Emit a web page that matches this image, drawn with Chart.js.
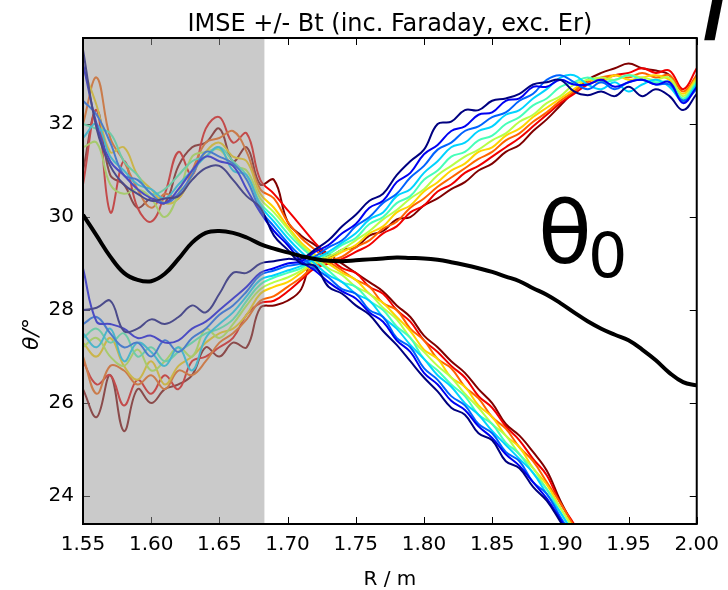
<!DOCTYPE html>
<html>
<head>
<meta charset="utf-8">
<script src="https://cdn.jsdelivr.net/npm/chart.js@4.4.0/dist/chart.umd.min.js"></script>
<style>
  html, body { margin: 0; padding: 0; background: #fff; }
</style>
</head>
<body>
<canvas id="chartTheta" width="728" height="590"></canvas>
<script>
// R positions (m)
var rValues = [1.55, 1.56, 1.57, 1.58, 1.59, 1.60, 1.61, 1.62, 1.63, 1.64,
               1.65, 1.66, 1.67, 1.68, 1.69, 1.70, 1.71, 1.72, 1.73, 1.74,
               1.75, 1.76, 1.77, 1.78, 1.79, 1.80, 1.81, 1.82, 1.83, 1.84,
               1.85, 1.86, 1.87, 1.88, 1.89, 1.90, 1.91, 1.92, 1.93, 1.94,
               1.95, 1.96, 1.97, 1.98, 1.99, 2.00];

var xTicks = [1.55, 1.60, 1.65, 1.70, 1.75, 1.80, 1.85, 1.90, 1.95, 2.00];
var yTicks = [24, 26, 28, 30, 32];
var shadeEnd = 1.683;

// theta0 (black)
var theta0 = [30.05, 29.6, 29.15, 28.8, 28.65, 28.62, 28.78, 29.1, 29.45, 29.66,
              29.7, 29.66, 29.56, 29.42, 29.32, 29.24, 29.16, 29.1, 29.06, 29.05,
              29.07, 29.09, 29.11, 29.13, 29.12, 29.11, 29.08, 29.03, 28.97, 28.9,
              28.82, 28.72, 28.62, 28.47, 28.33, 28.15, 27.95, 27.76, 27.6, 27.47,
              27.35, 27.15, 26.92, 26.65, 26.45, 26.38];

// +Bt lines (lower left -> upper right), jet order navy..darkred
var rise0 = [28.0, 28.05, 28.2, 27.55, 27.6, 27.8, 27.7, 27.85, 28.1, 27.95, 28.35, 28.8, 28.8, 29.0,
             29.05, 29.1, 29.1, 29.3,
             29.5, 29.8, 30.05, 30.35, 30.5, 30.9, 31.2, 31.45, 32.0, 32.05, 32.3, 32.3, 32.5, 32.55,
             32.65, 32.85, 32.9, 32.95, 32.7, 32.62, 32.7, 32.6, 32.8, 32.6, 32.75, 32.6, 32.3, 32.65];
var rise1 = [28.9, 27.75, 27.7, 27.6, 27.4, 27.45, 27.3, 27.35, 27.6, 27.75, 28.0, 28.25, 28.5, 28.8,
             28.9, 29.0, 29.05, 29.25,
             29.4, 29.65, 29.85, 30.2, 30.35, 30.75, 30.95, 31.35, 31.55, 31.85, 31.95, 32.2, 32.25, 32.5,
             32.55, 32.8, 32.8, 32.95, 32.85, 32.85, 32.95, 32.8, 32.9, 32.95, 32.85, 32.9, 32.45, 32.8];
var rise2 = [27.7, 27.85, 27.5, 27.2, 27.3, 27.0, 27.35, 27.1, 27.4, 27.6, 27.9, 28.1, 28.4, 28.75,
             28.85, 28.95, 29.0, 29.15,
             29.35, 29.5, 29.8, 30.0, 30.3, 30.5, 30.85, 31.1, 31.45, 31.6, 31.85, 31.95, 32.15, 32.25,
             32.5, 32.65, 32.95, 33.05, 32.9, 32.75, 32.9, 32.75, 32.9, 32.95, 32.85, 32.85, 32.5, 32.75];
var rise3 = [27.5, 27.2, 27.6, 26.9, 27.3, 27.1, 26.8, 27.2, 26.7, 27.4, 27.7, 27.95, 28.3, 28.65,
             28.75, 28.85, 28.95, 29.1,
             29.25, 29.45, 29.65, 29.95, 30.1, 30.45, 30.6, 30.95, 31.2, 31.5, 31.6, 31.85, 31.95, 32.2,
             32.3, 32.55, 32.75, 33.0, 33.05, 32.85, 32.75, 32.9, 32.7, 32.85, 32.95, 32.8, 32.5, 32.85];
var rise4 = [27.4, 27.6, 27.3, 27.5, 27.0, 27.2, 26.9, 27.1, 27.3, 27.5, 27.6, 27.8, 28.2, 28.55,
             28.7, 28.8, 28.9, 29.1,
             29.2, 29.4, 29.55, 29.85, 30.0, 30.3, 30.45, 30.8, 31.0, 31.3, 31.4, 31.65, 31.75, 32.0,
             32.15, 32.4, 32.55, 32.8, 32.9, 33.0, 32.9, 32.95, 33.05, 32.95, 32.9, 32.9, 32.55, 32.9];
var rise5 = [27.2, 27.4, 27.0, 26.8, 27.15, 26.7, 26.9, 27.2, 27.0, 27.6, 27.4, 27.7, 28.1, 28.45,
             28.6, 28.7, 28.85, 29.05,
             29.15, 29.3, 29.5, 29.7, 29.95, 30.15, 30.4, 30.6, 30.9, 31.1, 31.3, 31.45, 31.65, 31.8,
             32.05, 32.2, 32.45, 32.6, 32.85, 32.95, 33.0, 32.95, 33.05, 33.0, 32.95, 33.0, 32.6, 32.95];
var rise6 = [27.3, 27.0, 27.4, 26.8, 26.5, 26.9, 26.4, 26.8, 27.0, 27.3, 27.5, 27.6, 27.9, 28.35,
             28.5, 28.6, 28.8, 29.0,
             29.1, 29.25, 29.4, 29.65, 29.8, 30.1, 30.25, 30.55, 30.75, 31.0, 31.15, 31.4, 31.5, 31.75,
             31.9, 32.15, 32.35, 32.55, 32.75, 32.95, 32.9, 33.05, 32.95, 33.0, 33.05, 32.95, 32.65, 33.0];
var rise7 = [27.0, 26.2, 26.8, 26.7, 26.4, 26.6, 26.3, 26.7, 26.6, 26.9, 27.3, 27.5, 27.8, 28.2,
             28.3, 28.5, 28.7, 28.95,
             29.05, 29.15, 29.35, 29.5, 29.75, 29.9, 30.2, 30.4, 30.65, 30.85, 31.05, 31.25, 31.4, 31.65,
             31.8, 32.05, 32.25, 32.5, 32.7, 32.9, 33.0, 33.05, 33.0, 33.1, 33.0, 33.05, 32.7, 33.05];
var rise8 = [26.9, 26.4, 26.6, 25.95, 26.5, 26.2, 26.6, 26.3, 26.9, 27.0, 27.2, 27.4, 27.9, 28.15,
             28.2, 28.4, 28.65, 28.9,
             29.0, 29.1, 29.25, 29.4, 29.65, 29.8, 30.1, 30.25, 30.55, 30.7, 30.95, 31.1, 31.3, 31.5,
             31.7, 31.95, 32.2, 32.45, 32.65, 32.85, 32.95, 33.05, 33.1, 33.2, 33.1, 33.15, 32.75, 33.2];
var rise9 = [26.3, 25.7, 26.6, 25.4, 26.3, 26.0, 26.3, 26.4, 26.6, 27.2, 27.0, 27.3, 27.2, 28.05,
             28.1, 28.2, 28.45, 29.3,
             29.15, 29.3, 29.35, 29.6, 29.7, 29.95, 30.0, 30.25, 30.4, 30.6, 30.75, 31.0, 31.15, 31.4,
             31.55, 31.85, 32.1, 32.4, 32.7, 32.95, 33.1, 33.2, 33.3, 33.2, 33.15, 33.05, 32.5, 33.05];

// -Bt lines (upper left -> lower right), jet order navy..darkred
var fall0 = [33.6, 31.9, 31.1, 30.7, 30.5, 30.35, 30.4, 30.45, 30.8, 31.05, 31.1, 30.8, 30.45, 30.2,
             29.6, 29.3, 29.0, 28.95,
             28.5, 28.35, 28.1, 27.9, 27.55, 27.25, 26.9, 26.55, 26.25, 25.9, 25.75, 25.35, 25.2, 24.75,
             24.6, 24.2, 23.9, 23.45, 23.0, 22.5, null, null, null, null, null, null, null, null];
var fall1 = [33.3, 32.0, 31.2, 30.9, 30.6, 30.4, 30.3, 30.6, 31.0, 31.3, 31.2, 31.1, 30.6, 30.1,
             29.7, 29.4, 29.05, 28.85,
             28.6, 28.4, 28.25, 27.95, 27.75, 27.35, 27.1, 26.65, 26.4, 26.05, 25.85, 25.5, 25.25, 24.9,
             24.65, 24.3, 23.95, 23.5, 23.05, 22.55, null, null, null, null, null, null, null, null];
var fall2 = [32.5, 32.2, 31.6, 30.9, 30.8, 30.5, 30.3, 30.5, 30.9, 31.4, 31.3, 31.15, 30.8, 30.15,
             29.8, 29.45, 29.15, 28.9,
             28.7, 28.45, 28.35, 28.0, 27.85, 27.4, 27.2, 26.75, 26.5, 26.15, 25.95, 25.55, 25.35, 24.95,
             24.75, 24.3, 24.05, 23.55, 23.1, 22.6, null, null, null, null, null, null, null, null];
var fall3 = [31.7, 32.0, 31.3, 31.0, 30.7, 30.6, 30.4, 30.7, 31.0, 31.3, 31.5, 31.0, 30.9, 30.25,
             29.9, 29.55, 29.25, 29.0,
             28.75, 28.6, 28.35, 28.2, 27.85, 27.6, 27.25, 26.95, 26.6, 26.35, 26.0, 25.75, 25.4, 25.1,
             24.8, 24.5, 24.05, 23.65, 23.15, 22.65, null, null, null, null, null, null, null, null];
var fall4 = [32.0, 31.9, 31.8, 31.2, 30.9, 30.5, 30.6, 30.9, 31.2, 31.3, 31.5, 31.2, 30.9, 30.3,
             30.0, 29.65, 29.35, 29.1,
             28.85, 28.6, 28.5, 28.2, 28.0, 27.65, 27.4, 26.95, 26.7, 26.4, 26.15, 25.75, 25.55, 25.15,
             24.9, 24.5, 24.15, 23.65, 23.2, 22.7, null, null, null, null, null, null, null, null];
var fall5 = [31.5, 31.6, 30.7, 30.5, 30.6, 30.4, 30.0, 30.5, 31.3, 31.4, 31.45, 31.1, 31.0, 30.4,
             30.1, 29.75, 29.4, 29.15,
             28.9, 28.75, 28.5, 28.35, 28.05, 27.8, 27.4, 27.1, 26.8, 26.55, 26.2, 25.9, 25.55, 25.3,
             24.9, 24.6, 24.15, 23.75, 23.25, 22.75, null, null, null, null, null, null, null, null];
var fall6 = [33.2, 32.4, 31.4, 31.5, 30.9, 30.6, 30.3, 30.4, 30.9, 31.4, 31.6, 31.3, 31.2, 30.5,
             30.2, 29.8, 29.45, 29.2,
             29.0, 28.8, 28.65, 28.35, 28.15, 27.85, 27.55, 27.15, 26.95, 26.55, 26.35, 25.95, 25.7, 25.3,
             25.05, 24.6, 24.25, 23.75, 23.3, 22.8, null, null, null, null, null, null, null, null];
var fall7 = [32.0, 33.0, 31.7, 31.2, 30.6, 30.2, 30.5, 30.4, 31.0, 31.6, 31.7, 31.85, 31.4, 30.6,
             30.4, 29.9, 29.55, 29.3,
             29.05, 28.85, 28.65, 28.5, 28.15, 28.0, 27.6, 27.35, 26.95, 26.75, 26.35, 26.1, 25.7, 25.45,
             25.05, 24.75, 24.3, 23.85, 23.35, 22.85, null, null, null, null, null, null, null, null];
var fall8 = [30.7, 32.3, 30.1, 31.2, 30.2, 29.9, 30.5, 31.4, 30.9, 31.9, 32.15, 31.6, 31.8, 30.8,
             30.5, 30.15, 29.8, 29.45,
             29.15, 28.9, 28.8, 28.5, 28.35, 28.0, 27.75, 27.35, 27.1, 26.8, 26.55, 26.15, 25.9, 25.5,
             25.2, 24.8, 24.45, 23.85, 23.4, 22.85, null, null, null, null, null, null, null, null];
var fall9 = [31.0, 32.3, 30.9, 30.7, 30.2, 30.4, 30.3, 31.1, 31.5, 31.6, 31.9, 31.2, 31.5, 30.7,
             30.8, 29.9, 29.6, 29.4,
             29.2, 29.0, 28.8, 28.6, 28.4, 28.1, 27.85, 27.45, 27.2, 26.9, 26.65, 26.3, 26.0, 25.55,
             25.3, 24.95, 24.55, 23.9, 23.35, 22.8, null, null, null, null, null, null, null, null];

var jetColors = ['#000080', '#0000f1', '#0063ff', '#00d4ff', '#47ffb8',
                 '#b8ff47', '#ffd400', '#ff6300', '#f10000', '#800000'];

var riseLines = [rise0, rise1, rise2, rise3, rise4, rise5, rise6, rise7, rise8, rise9];
var fallLines = [fall0, fall1, fall2, fall3, fall4, fall5, fall6, fall7, fall8, fall9];

function toPoints(values) {
    return rValues.map(function (r, i) { return { x: r, y: values[i] }; });
}

// black theta0 first so it is drawn on top
var datasets = [{
    data: toPoints(theta0),
    borderColor: '#000000',
    borderWidth: 4,
    tension: 0.4
}];
for (var i = 0; i < 10; i++) {
    datasets.push({ data: toPoints(fallLines[i]), borderColor: jetColors[i], borderWidth: 2, tension: 0.4 });
    datasets.push({ data: toPoints(riseLines[i]), borderColor: jetColors[i], borderWidth: 2, tension: 0.4 });
}

var FONT = '"DejaVu Sans", "Liberation Sans", sans-serif';

var framePlugin = {
    id: 'frame',
    beforeDatasetsDraw: function (chart) {
        var ctx = chart.ctx, a = chart.chartArea;
        var xs = chart.scales.x, ys = chart.scales.y;
        ctx.save();
        ctx.strokeStyle = '#000';
        ctx.lineWidth = 1;
        ctx.beginPath();
        xTicks.forEach(function (t) {
            var px = Math.round(xs.getPixelForValue(t)) + 0.5;
            ctx.moveTo(px, a.bottom); ctx.lineTo(px, a.bottom - 7);
            ctx.moveTo(px, a.top); ctx.lineTo(px, a.top + 7);
        });
        yTicks.forEach(function (t) {
            var py = Math.round(ys.getPixelForValue(t)) + 0.5;
            ctx.moveTo(a.left, py); ctx.lineTo(a.left + 7, py);
            ctx.moveTo(a.right, py); ctx.lineTo(a.right - 7, py);
        });
        ctx.stroke();
        ctx.restore();
    },
    afterDatasetDraw: function (chart, args) {
        if (args.index !== 1) return;
        var ctx = chart.ctx, a = chart.chartArea;
        var x1 = chart.scales.x.getPixelForValue(shadeEnd);
        ctx.save();
        ctx.fillStyle = 'rgba(150,150,150,0.5)';
        ctx.fillRect(a.left, a.top, x1 - a.left, a.bottom - a.top);
        ctx.restore();
    },
    afterDraw: function (chart) {
        var ctx = chart.ctx, a = chart.chartArea;
        ctx.save();
        ctx.strokeStyle = '#000';
        ctx.lineWidth = 2;
        ctx.strokeRect(a.left, a.top, a.right - a.left, a.bottom - a.top);

        ctx.fillStyle = '#000';
        ctx.textAlign = 'center';
        ctx.textBaseline = 'alphabetic';
        ctx.font = '24px ' + FONT;
        ctx.fillText('IMSE +/- Bt (inc. Faraday, exc. Er)', (a.left + a.right) / 2, 31);

        ctx.font = '20px ' + FONT;
        ctx.fillText('R / m', (a.left + a.right) / 2, 585);

        ctx.textAlign = 'left';
        ctx.font = '88px ' + FONT;
        ctx.fillText('\u03b8', 538, 263);
        ctx.font = '62px ' + FONT;
        ctx.fillText('0', 588, 277);

        ctx.font = 'bold italic 56px ' + FONT;
        ctx.fillText('I', 703, 40);

        ctx.translate(38, 334);
        ctx.rotate(-Math.PI / 2);
        ctx.textAlign = 'center';
        ctx.font = 'italic 22px ' + FONT;
        ctx.fillText('\u03b8/\u00b0', 0, 0);
        ctx.restore();
    }
};

new Chart(document.getElementById('chartTheta').getContext('2d'), {
    type: 'line',
    data: { datasets: datasets },
    options: {
        responsive: false,
        animation: false,
        devicePixelRatio: 1,
        layout: { padding: { top: 38, right: 31, left: 0, bottom: 0 } },
        elements: { point: { radius: 0 } },
        clip: 0,
        plugins: { legend: { display: false }, tooltip: { enabled: false } },
        scales: {
            x: {
                type: 'linear',
                min: 1.55,
                max: 2.00,
                grid: { display: false, drawTicks: false },
                border: { display: false },
                afterBuildTicks: function (s) { s.ticks = xTicks.map(function (v) { return { value: v }; }); },
                afterFit: function (s) { s.height = 66; },
                ticks: {
                    autoSkip: false, maxRotation: 0, padding: 9, color: '#000',
                    font: { family: FONT, size: 20 },
                    callback: function (v) { return v.toFixed(2); }
                }
            },
            y: {
                type: 'linear',
                min: 23.4,
                max: 33.85,
                grid: { display: false, drawTicks: false },
                border: { display: false },
                afterBuildTicks: function (s) { s.ticks = yTicks.map(function (v) { return { value: v }; }); },
                afterFit: function (s) { s.width = 83; },
                ticks: {
                    padding: 9, color: '#000',
                    font: { family: FONT, size: 20 },
                    callback: function (v) { return v; }
                }
            }
        }
    },
    plugins: [framePlugin]
});
</script>
</body>
</html>
